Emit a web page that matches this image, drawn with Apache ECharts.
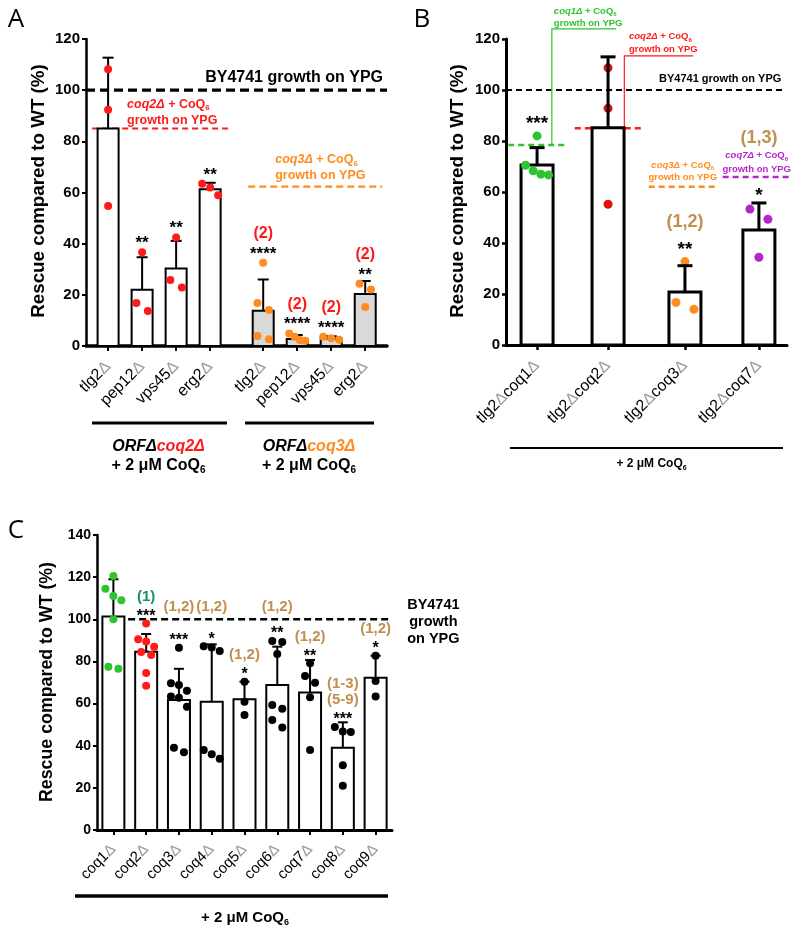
<!DOCTYPE html>
<html><head><meta charset="utf-8">
<script src="https://cdn.jsdelivr.net/npm/echarts@6/dist/echarts.min.js"></script>
<style>html,body{margin:0;padding:0;background:#fff}#c{width:800px;height:934px}</style>
</head><body><div id="c"></div>
<script>
// ================= DATA =================
// Panel A
const aCategories = ['tlg2Δ','pep12Δ','vps45Δ','erg2Δ','tlg2Δ','pep12Δ','vps45Δ','erg2Δ'];
const aMeans = [85, 22, 30.3, 61.3, 13.8, 2.7, 2.9, 20.3];
const aSD = [27.7, 12.7, 10.8, 2.5, 12.2, 1.6, 0.9, 5.1];
const aPoints = [[108.2,92.3,54.7],[36.6,16.8,13.7],[42.4,25.8,22.9],[62,63.4,58.9],[32.5,16.8,14.1,3.9,2.6],[4.9,3.6,2.3,2.1],[3.6,3,2.4],[24.3,22.1,15.2]];
const aStars = ['','**','**','**','****','****','****','**'];
const aNotes = ['','','','','(2)','(2)','(2)','(2)'];
const aRefValues = [100, 85, 62.3];
// Panel B
const bCategories = ['tlg2Δcoq1Δ','tlg2Δcoq2Δ','tlg2Δcoq3Δ','tlg2Δcoq7Δ'];
const bMeans = [70.6, 85.2, 20.8, 45.1];
const bSD = [6.8, 27.8, 10.3, 10.6];
const bPoints = [[82,70.5,68.3,67,66.7],[108.7,92.8,55.2],[32.7,16.7,14],[53.3,49.3,34.4]];
const bStars = ['***','','**','*'];
const bNotes = ['','','(1,2)','(1,3)'];
const bRefValues = [100, 78.4, 85, 62.1, 65.9];
// Panel C
const cCategories = ['coq1Δ','coq2Δ','coq3Δ','coq4Δ','coq5Δ','coq6Δ','coq7Δ','coq8Δ','coq9Δ'];
const cMeans = [101.3, 84.6, 61.7, 60.9, 62, 68.8, 65.2, 39, 72.3];
const cSD = [17.7, 8.4, 14.8, 27.2, 8.4, 18.2, 15.5, 12.1, 10.4];
const cPoints = [[120.5,114.5,111,109,100,77.5,76.5],[98,90.5,89.5,87,84.5,83,74.5,68.5],[86.5,69.6,68.8,66.1,63.3,62.8,58.5,39,36.9],[87.2,86.6,85,38,35.9,33.8],[70.4,60.9,54.6],[89.7,89.2,83.5,59.3,57.6,52.2,48.6],[79.1,73.1,69.9,63,38],[48.9,46.8,46.5,30.7,21],[82.7,70.7,63.3]];
const cStars = ['','***','***','*','*','**','**','***','*'];
const cNotes = ['','(1)','(1,2)','(1,2)','(1,2)','(1,2)','(1,2)','(1-3)\n(5-9)','(1,2)'];
const cRefValues = [100];

// ================= STYLE / LAYOUT =================
const FONT = "'Liberation Sans', Arial, Helvetica, sans-serif";
const LETTER_FONT = "'Open Sans', 'Liberation Sans', sans-serif";
const RED = '#ff1a1a', ORANGE = '#ff8c1e', GREEN = '#2ec42e', MAGENTA = '#b526c9', BROWN = '#c0914e', TEAL = '#1a8f6a';

function rich(size, color) {
  const base = {fontFamily: FONT, fontWeight: 'bold', fontSize: size, fill: color, color: color, lineHeight: size + 3};
  return {
    n: base,
    i: Object.assign({}, base, {fontStyle: 'italic'}),
    s: Object.assign({}, base, {fontSize: Math.round(size * 0.62), lineHeight: Math.round(size * 0.62), verticalAlign: 'bottom'}),
    r: Object.assign({}, base, {fontStyle: 'italic', fill: RED, color: RED}),
    o: Object.assign({}, base, {fontStyle: 'italic', fill: ORANGE, color: ORANGE})
  };
}
function coqText(name) { return '{i|' + name + '}{n| + CoQ}{s|6}'; }

const A = {
  grid: {left: 86, top: 39, width: 301, height: 307},
  xMin: -0.65, xMax: 8.2, pos: [0, 1, 2, 3, 4.56, 5.56, 6.56, 7.56], yMax: 120,
  categories: aCategories, means: aMeans, sd: aSD, points: aPoints, stars: aStars, notes: aNotes, refValues: aRefValues,
  barW: 21, barFill: i => i < 4 ? '#fff' : '#d9d9d9', barStroke: 2, errW: 2, capW: 11, errOnTop: false,
  dotR: 4, dotColor: i => i < 4 ? RED : ORANGE, rowThreshold: 12, dotSpacing: 11.5, dotMaxSpread: 16,
  starFs: 17, starGap: 9, noteFs: 16, noteGap: 16, noteH: 13, noteColor: () => RED,
  labelFs: 16, tickFs: 15, yAxisW: 2.5, xAxisW: 3.5, tickW: 2, labelMargin: 18,
  refs: [
    {x0: -0.65, x1: 8.2, color: '#000', width: 3.3, dash: [9, 5],
     texts: [{at: 'end', dx: -4, dy: -13, align: 'right', size: 16, color: '#000', text: 'BY4741 growth on YPG'}]},
    {x0: -0.47, x1: 3.53, color: RED, width: 2, dash: [6, 4],
     texts: [{at: 'start', dx: 35, dy: -24.4, align: 'left', size: 12.5, color: RED, text: coqText('coq2Δ')},
             {at: 'start', dx: 35, dy: -8.4, align: 'left', size: 12.5, color: RED, text: 'growth on YPG'}]},
    {x0: 4.12, x1: 8.06, color: ORANGE, width: 2.2, dash: [7, 4],
     texts: [{at: 'start', dx: 27, dy: -26.7, align: 'left', size: 12.5, color: ORANGE, text: coqText('coq3Δ')},
             {at: 'start', dx: 27, dy: -10.7, align: 'left', size: 12.5, color: ORANGE, text: 'growth on YPG'}]}
  ]
};
const B = {
  grid: {left: 506, top: 39, width: 281, height: 306},
  xMin: -0.42, xMax: 3.38, pos: [0, 0.96, 2, 3], yMax: 120,
  categories: bCategories, means: bMeans, sd: bSD, points: bPoints, stars: bStars, notes: bNotes, refValues: bRefValues,
  barW: 32, barFill: () => '#fff', barStroke: 3, errW: 3, capW: 15, errOnTop: true,
  dotR: 4.5, dotColor: i => [GREEN, '#e01010', ORANGE, MAGENTA][i], rowThreshold: 12, dotSpacing: 18, dotMaxSpread: 23,
  starFs: 19, starGap: 12, noteFs: 18, noteGap: 23, noteH: 14, noteColor: () => BROWN,
  labelFs: 16, tickFs: 15, yAxisW: 3, xAxisW: 3, tickW: 2.5, labelMargin: 18,
  refs: [
    {x0: -0.42, x1: 3.33, color: '#000', width: 2.2, dash: [6, 4],
     texts: [{at: 'end', dx: -2, dy: -10.7, align: 'right', size: 11, color: '#000', text: 'BY4741 growth on YPG'}]},
    {x0: -0.39, x1: 0.38, color: GREEN, width: 2.5, dash: [6, 4], bracket: {x: 0.2, top: 124, x2: 1.07},
     texts: [{at: 'bracket', dx: 2, dy: -17.3, align: 'left', size: 9.5, color: GREEN, text: coqText('coq1Δ')},
             {at: 'bracket', dx: 2, dy: -5.7, align: 'left', size: 9.5, color: GREEN, text: 'growth on YPG'}]},
    {x0: 0.51, x1: 1.43, color: RED, width: 2.5, dash: [6, 4], bracket: {x: 1.18, top: 113.4, x2: 2.11},
     texts: [{at: 'bracket', dx: 4.7, dy: -19, align: 'left', size: 9.5, color: RED, text: coqText('coq2Δ')},
             {at: 'bracket', dx: 4.7, dy: -6.4, align: 'left', size: 9.5, color: RED, text: 'growth on YPG'}]},
    {x0: 1.51, x1: 2.43, color: ORANGE, width: 2.5, dash: [6, 4], obstacleTop: -30,
     texts: [{at: 'center', dx: 0, dy: -21.7, align: 'center', size: 9.5, color: ORANGE, text: coqText('coq3Δ')},
             {at: 'center', dx: 0, dy: -9.4, align: 'center', size: 9.5, color: ORANGE, text: 'growth on YPG'}]},
    {x0: 2.51, x1: 3.43, color: MAGENTA, width: 2.5, dash: [6, 4], obstacleTop: -29,
     texts: [{at: 'center', dx: 0, dy: -21.3, align: 'center', size: 9.5, color: MAGENTA, text: coqText('coq7Δ')},
             {at: 'center', dx: 0, dy: -8, align: 'center', size: 9.5, color: MAGENTA, text: 'growth on YPG'}]}
  ]
};
const C = {
  grid: {left: 97, top: 535, width: 295, height: 295},
  xMin: -0.5, xMax: 8.5, pos: [0, 1, 2, 3, 4, 5, 6, 7, 8], yMax: 140,
  categories: cCategories, means: cMeans, sd: cSD, points: cPoints, stars: cStars, notes: cNotes, refValues: cRefValues,
  barW: 22, barFill: () => '#fff', barStroke: 2, errW: 2, capW: 10, errOnTop: false,
  dotR: 4, dotColor: i => i === 0 ? GREEN : (i === 1 ? RED : '#000'), rowThreshold: 12, dotSpacing: 10, dotMaxSpread: 16,
  starFs: 16, starGap: 7, noteFs: 15, noteGap: 15.5, noteH: 12, noteColor: i => i === 1 ? TEAL : BROWN,
  labelFs: 15, tickFs: 14, yAxisW: 2.5, xAxisW: 3, tickW: 2, labelMargin: 17,
  refs: [
    {x0: 0.45, x1: 8.45, color: '#000', width: 2.5, dash: [7, 4], obstacleTop: -3,
     texts: [{at: 'end', dx: 43, dy: -14, align: 'center', size: 14.5, color: '#000', text: 'BY4741'},
             {at: 'end', dx: 43, dy: 2.7, align: 'center', size: 14.5, color: '#000', text: 'growth'},
             {at: 'end', dx: 43, dy: 20, align: 'center', size: 14.5, color: '#000', text: 'on YPG'}]}
  ]
};

function T(x, y, text, o) {
  const al = o.align || 'center', va = o.va || 'middle';
  return {type: 'text', x: x, y: y, rotation: o.rot || 0, silent: true, z: 10,
    style: {text: text, fill: o.color || '#000', fontSize: o.size, fontWeight: o.weight || 'bold',
      fontStyle: o.fstyle || 'normal', fontFamily: o.family || FONT,
      align: al, textAlign: al, verticalAlign: va, textVerticalAlign: va, rich: o.rich}};
}

function refRender(P) {
  return function (params, api) {
    const j = params.dataIndex, r = P.refs[j], v = P.refValues[j];
    const p0 = api.coord([r.x0, v]), p1 = api.coord([r.x1, v]);
    const ch = [{type: 'line', silent: true, shape: {x1: p0[0], y1: p0[1], x2: p1[0], y2: p1[1]},
      style: {stroke: r.color, lineWidth: r.width, lineDash: r.dash}}];
    let bTop = null;
    if (r.bracket) {
      const bb = api.coord([r.bracket.x, v]);
      const bt = api.coord([r.bracket.x, r.bracket.top]);
      const be = api.coord([r.bracket.x2, r.bracket.top]);
      ch.push({type: 'polyline', silent: true, shape: {points: [[bb[0], bb[1]], [bt[0], bt[1]], [be[0], be[1]]]},
        style: {stroke: r.color, lineWidth: 1.2, fill: null}});
      bTop = bt;
    }
    r.texts.forEach(t => {
      let ax, ay;
      if (t.at === 'start') { ax = p0[0]; ay = p0[1]; }
      else if (t.at === 'end') { ax = p1[0]; ay = p1[1]; }
      else if (t.at === 'center') { ax = (p0[0] + p1[0]) / 2; ay = p0[1]; }
      else { ax = bTop[0]; ay = bTop[1]; }
      ch.push(T(ax + t.dx, ay + t.dy, t.text, {size: t.size, color: t.color, align: t.align, rich: rich(t.size, t.color)}));
    });
    return {type: 'group', children: ch};
  };
}

function barRender(P) {
  return function (params, api) {
    const i = params.dataIndex, x = P.pos[i];
    const p0 = api.coord([x, 0]), p1 = api.coord([x, P.means[i]]);
    return {type: 'rect', silent: true,
      shape: {x: p0[0] - P.barW / 2, y: p1[1], width: P.barW, height: p0[1] - p1[1]},
      style: {fill: P.barFill(i), stroke: '#000', lineWidth: P.barStroke}};
  };
}

function errRender(P) {
  return function (params, api) {
    const i = params.dataIndex, x = P.pos[i];
    const p1 = api.coord([x, P.means[i]]), pe = api.coord([x, P.means[i] + P.sd[i]]);
    return {type: 'group', children: [
      {type: 'line', silent: true, shape: {x1: p1[0], y1: p1[1], x2: pe[0], y2: pe[1]}, style: {stroke: '#000', lineWidth: P.errW}},
      {type: 'line', silent: true, shape: {x1: pe[0] - P.capW / 2, y1: pe[1], x2: pe[0] + P.capW / 2, y2: pe[1]}, style: {stroke: '#000', lineWidth: P.errW}}
    ]};
  };
}

function dotRender(P) {
  return function (params, api) {
    const i = params.dataIndex, x = P.pos[i], vals = P.points[i];
    const cx = api.coord([x, 0])[0];
    const ys = vals.map(v => api.coord([x, v])[1]);
    const order = vals.map((v, k) => k).sort((a, b) => ys[a] - ys[b]);
    const off = vals.map(() => 0);
    let row = [];
    const flush = () => {
      const n = row.length;
      const sp = n > 1 ? Math.min(P.dotSpacing, P.dotMaxSpread / (n - 1)) : 0;
      row.forEach((k, j) => { off[k] = (j - (n - 1) / 2) * sp; });
      row = [];
    };
    order.forEach(k => { if (row.length && ys[k] - ys[row[0]] >= P.rowThreshold) flush(); row.push(k); });
    flush();
    return {type: 'group', children: vals.map((v, k) => ({type: 'circle', silent: true,
      shape: {cx: cx + off[k], cy: ys[k], r: P.dotR}, style: {fill: P.dotColor(i)}}))};
  };
}

function noteRender(P) {
  return function (params, api) {
    const i = params.dataIndex, x = P.pos[i];
    const cx = api.coord([x, 0])[0];
    let anchor = api.coord([x, P.means[i] + P.sd[i]])[1];
    P.points[i].forEach(v => { anchor = Math.min(anchor, api.coord([x, v])[1] - P.dotR); });
    const obstacles = [];
    P.refs.forEach((r, j) => {
      if (r.obstacleTop === undefined) return;
      const a = api.coord([r.x0, P.refValues[j]]), b = api.coord([r.x1, P.refValues[j]]);
      obstacles.push({x0: a[0], x1: b[0], y0: a[1] + r.obstacleTop, y1: a[1] + 3});
    });
    const ch = [];
    let c = anchor - P.starGap;
    if (P.stars[i]) ch.push(T(cx, c + 0.25 * P.starFs, P.stars[i], {size: P.starFs, color: '#000'}));
    const lines = P.notes[i] ? P.notes[i].split('\n').reverse() : [];
    lines.forEach(ln => {
      let y = c - P.noteGap;
      obstacles.forEach(o => {
        if (cx >= o.x0 && cx <= o.x1 && y + P.noteH / 2 > o.y0 && y - P.noteH / 2 < o.y1) y = o.y0 - P.noteH / 2 - 3;
      });
      ch.push(T(cx, y, ln, {size: P.noteFs, color: P.noteColor(i)}));
      c = y;
    });
    return {type: 'group', children: ch};
  };
}

const panels = [A, B, C];
const option = {animation: false, grid: [], xAxis: [], yAxis: [], series: []};
panels.forEach((P, k) => {
  option.grid.push(Object.assign({containLabel: false}, P.grid));
  option.xAxis.push({
    gridIndex: k, type: 'value', min: P.xMin, max: P.xMax,
    axisLine: {show: true, onZero: false, lineStyle: {color: '#000', width: P.xAxisW}},
    axisTick: {show: true, customValues: P.pos, length: 5, lineStyle: {color: '#000', width: P.tickW}},
    axisLabel: {show: true, customValues: P.pos, rotate: 45, margin: P.labelMargin, fontSize: P.labelFs,
      fontFamily: FONT, color: '#000',
      formatter: function (v) {
        const i = P.pos.findIndex(q => Math.abs(q - v) < 1e-6);
        return i < 0 ? '' : P.categories[i].replace(/Δ/g, '{d|Δ}');
      },
      rich: {d: {color: '#9a9a9a', fontSize: P.labelFs, fontFamily: FONT}}},
    splitLine: {show: false}
  });
  option.yAxis.push({
    gridIndex: k, type: 'value', min: 0, max: P.yMax, interval: 20,
    axisLine: {show: true, onZero: false, lineStyle: {color: '#000', width: P.yAxisW}},
    axisTick: {show: true, length: 4, lineStyle: {color: '#000', width: P.tickW}},
    axisLabel: {fontSize: P.tickFs, fontWeight: 'bold', color: '#000', fontFamily: FONT, margin: 6},
    splitLine: {show: false}
  });
  const data = P.means.map((m, i) => [P.pos[i], m]);
  const common = {type: 'custom', xAxisIndex: k, yAxisIndex: k, silent: true, clip: false};
  option.series.push(Object.assign({}, common, {name: 'ref' + k, z: 1, renderItem: refRender(P),
    data: P.refValues.map((v, j) => [(P.refs[j].x0 + P.refs[j].x1) / 2, v])}));
  option.series.push(Object.assign({}, common, {name: 'bar' + k, z: 2, renderItem: barRender(P), data: data}));
  option.series.push(Object.assign({}, common, {name: 'err' + k, z: P.errOnTop ? 5 : 3, renderItem: errRender(P), data: data}));
  option.series.push(Object.assign({}, common, {name: 'dot' + k, z: 4, renderItem: dotRender(P), data: data}));
  option.series.push(Object.assign({}, common, {name: 'note' + k, z: 6, renderItem: noteRender(P), data: data}));
});

const R16 = rich(16, '#000');
const els = [
  T(16, 20, 'A', {size: 26, weight: 'normal', family: LETTER_FONT}),
  T(422, 20, 'B', {size: 26, weight: 'normal', family: LETTER_FONT}),
  T(16, 531, 'C', {size: 26, weight: 'normal', family: LETTER_FONT}),
  T(38.5, 191, 'Rescue compared to WT (%)', {size: 18.8, rot: Math.PI / 2}),
  T(458, 191, 'Rescue compared to WT (%)', {size: 18.8, rot: Math.PI / 2}),
  T(47.5, 682, 'Rescue compared to WT (%)', {size: 17.8, rot: Math.PI / 2}),
  {type: 'line', silent: true, shape: {x1: 92, y1: 423, x2: 227, y2: 423}, style: {stroke: '#000', lineWidth: 3}},
  {type: 'line', silent: true, shape: {x1: 245, y1: 423, x2: 374, y2: 423}, style: {stroke: '#000', lineWidth: 3}},
  T(158.5, 447, '{i|ORFΔ}{r|coq2Δ}', {size: 16, rich: R16}),
  T(158.5, 466, '{n|+ 2 μM CoQ}{s|6}', {size: 16, rich: R16}),
  T(309, 447, '{i|ORFΔ}{o|coq3Δ}', {size: 16, rich: R16}),
  T(309, 466, '{n|+ 2 μM CoQ}{s|6}', {size: 16, rich: R16}),
  {type: 'line', silent: true, shape: {x1: 510, y1: 448, x2: 783, y2: 448}, style: {stroke: '#000', lineWidth: 2}},
  T(651.5, 464, '{n|+ 2 μM CoQ}{s|6}', {size: 12, rich: rich(12, '#000')}),
  {type: 'line', silent: true, shape: {x1: 75, y1: 896, x2: 388, y2: 896}, style: {stroke: '#000', lineWidth: 3.5}},
  T(245, 918, '{n|+ 2 μM CoQ}{s|6}', {size: 15, rich: rich(15, '#000')})
];
option.graphic = {elements: els};

const chart = echarts.init(document.getElementById('c'), null, {renderer: 'canvas'});
chart.setOption(option);
</script></body></html>
